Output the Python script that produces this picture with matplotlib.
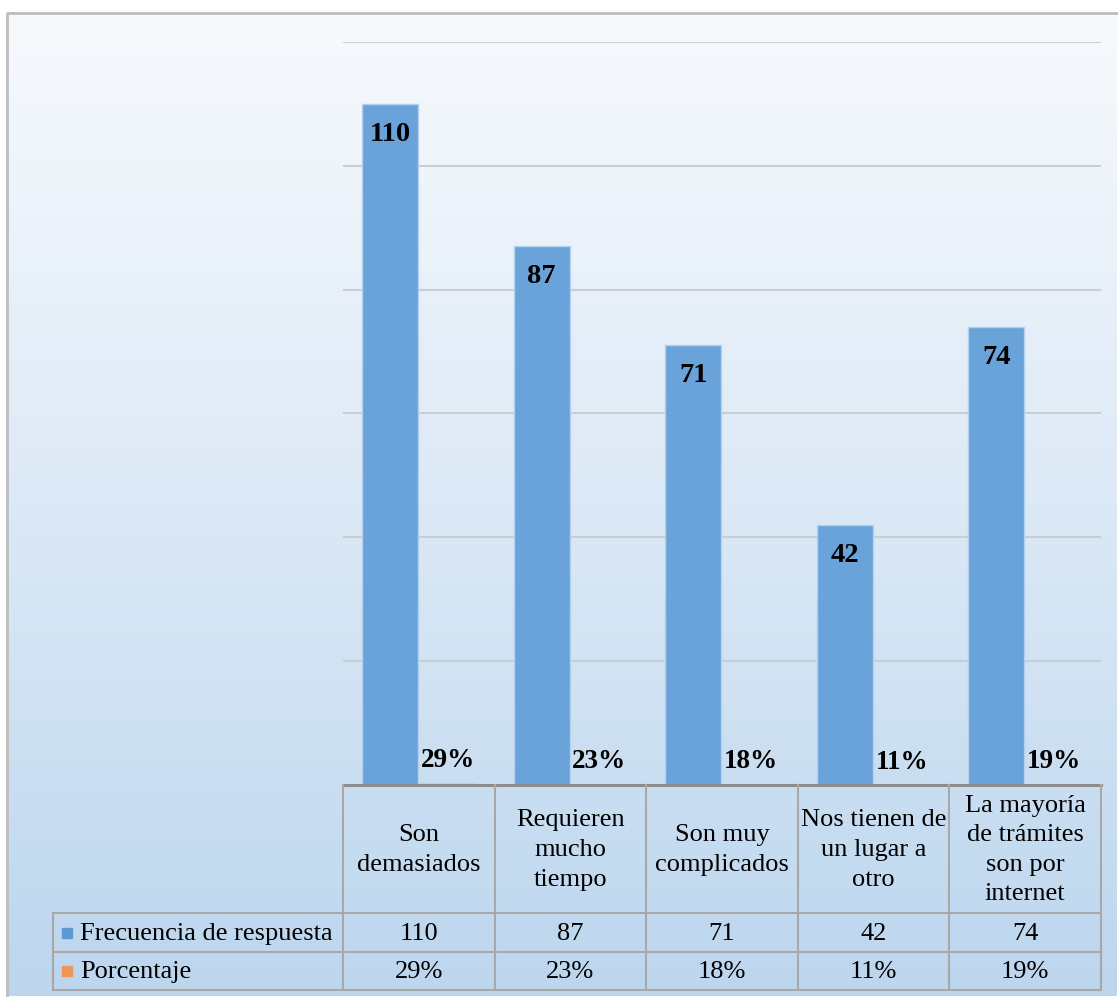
import matplotlib
matplotlib.use("Agg")
import matplotlib.pyplot as plt
import numpy as np
from matplotlib.colors import LinearSegmentedColormap

categories = ["Son\ndemasiados", "Requieren\nmucho\ntiempo", "Son muy\ncomplicados",
              "Nos tienen de\nun lugar a\notro", "La mayoría\nde trámites\nson por\ninternet"]
frecuencia = [110, 87, 71, 42, 74]
porcentaje = [0.29, 0.23, 0.18, 0.11, 0.19]
pct_labels = ["29%", "23%", "18%", "11%", "19%"]
series_names = ["Frecuencia de respuesta", "Porcentaje"]

W, H = 1118, 997
fig = plt.figure(figsize=(W / 100, H / 100), dpi=100)
fig.patch.set_facecolor("white")

# Background gradient inside frame
bg = fig.add_axes([0, 0, 1, 1], zorder=0)
bg.set_xlim(0, W)
bg.set_ylim(H, 0)
bg.axis("off")
cmap = LinearSegmentedColormap.from_list("g", ["#f7fafd", "#dce9f6", "#bcd6ee"])
grad = np.linspace(0, 1, 256).reshape(-1, 1)
bg.imshow(grad, cmap=cmap, extent=[7, W - 1, H - 1, 13], aspect="auto", zorder=0)
bg.plot([7, 7, W - 1], [H - 1, 13, 13], color="#bdbdbd", lw=2, zorder=1)

blue = "#6aa3d9"
orange = "#ed7d31"
serif = "Liberation Serif"

# Main plot axes
x0, x1, ytop, ybot = 343, 1101, 42, 785
ax = fig.add_axes([x0 / W, (H - ybot) / H, (x1 - x0) / W, (ybot - ytop) / H], zorder=2)
ax.patch.set_alpha(0)
ax.set_xlim(-0.5, len(categories) - 0.5)
ax.set_ylim(0, 120)
for s in ax.spines.values():
    s.set_visible(False)
ax.set_xticks([])
ax.set_yticks([])
for g in range(20, 121, 20):
    ax.axhline(g, color="#c6cbd0", lw=1.3, zorder=1)

xs = np.arange(len(categories))
off, bw = 0.19, 0.37
ax.bar(xs - off, frecuencia, bw, color=blue, edgecolor="#b3d1ee", lw=1, zorder=2)
ax.bar(xs + off, porcentaje, bw, color=orange, lw=0, zorder=0.5, alpha=0.15)
for xi, v in zip(xs, frecuencia):
    ax.annotate(str(v), (xi - off, v), xytext=(0, -22), textcoords="offset points",
                ha="center", va="center", fontsize=20.5, fontweight="bold",
                family=serif, color="black", zorder=4)
for xi, p, lab in zip(xs, porcentaje, pct_labels):
    ax.annotate(lab, (xi + off, p), xytext=(0, 16), textcoords="offset points",
                ha="center", va="center", fontsize=19.5, fontweight="bold",
                family=serif, color="black", zorder=4)

# Data table overlay
tb = fig.add_axes([0, 0, 1, 1], zorder=3)
tb.set_xlim(0, W)
tb.set_ylim(H, 0)
tb.axis("off")
tb.patch.set_alpha(0)
lc = "#a8a8a8"
col_edges = np.linspace(x0, x1, len(categories) + 1)
r0, r1, r2, r3 = 785, 913, 952, 990
lx = 53
tb.plot([x0, x1], [r0, r0], color="#8c8c8c", lw=2.2)
tb.plot([lx, x1], [r1, r1], color=lc, lw=1.5)
tb.plot([lx, x1], [r2, r2], color=lc, lw=1.5)
tb.plot([lx, x1], [r3, r3], color=lc, lw=1.5)
for ce in col_edges:
    tb.plot([ce, ce], [r0, r3], color=lc, lw=1.5)
tb.plot([lx, lx], [r1, r3], color=lc, lw=1.5)

fs = 19
for i, cat in enumerate(categories):
    cx = (col_edges[i] + col_edges[i + 1]) / 2
    tb.text(cx, (r0 + r1) / 2 + 1, cat, ha="center", va="center", fontsize=fs,
            family=serif, linespacing=1.45, color="black")
    tb.text(cx, (r1 + r2) / 2 + 1, str(frecuencia[i]), ha="center", va="center",
            fontsize=fs, family=serif, color="black")
    tb.text(cx, (r2 + r3) / 2 + 1, pct_labels[i], ha="center", va="center",
            fontsize=fs, family=serif, color="black")

for (ya, yb_), name, col in zip([(r1, r2), (r2, r3)], series_names, ["#5b9bd5", "#f0955a"]):
    yc = (ya + yb_) / 2
    tb.add_patch(plt.Rectangle((62, yc - 5), 10, 10, color=col))
    tb.text(80, yc + 1, name, ha="left", va="center", fontsize=fs, family=serif, color="black")

fig.savefig("out.png", dpi=100)
